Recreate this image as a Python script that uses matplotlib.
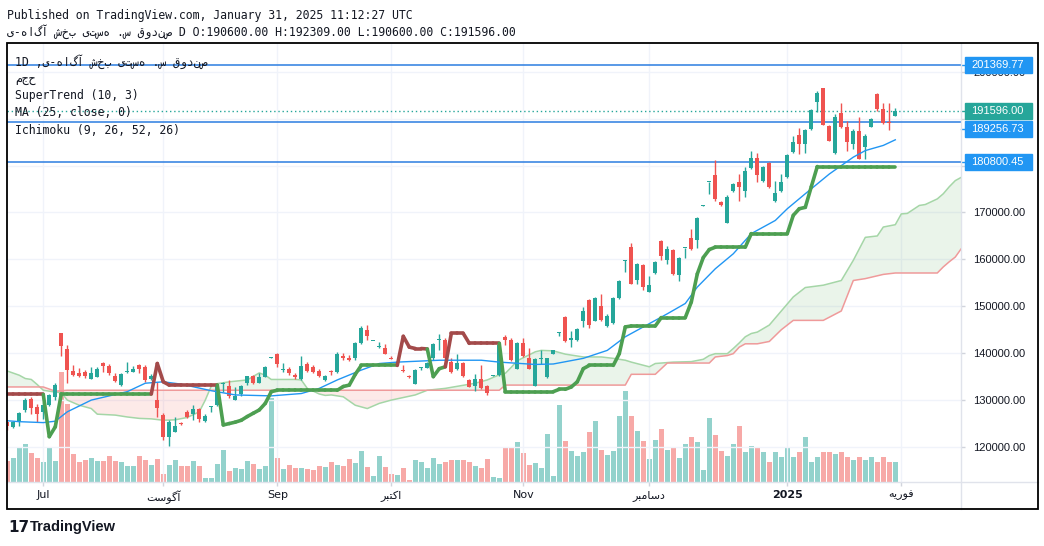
import matplotlib
matplotlib.use("Agg")
import matplotlib.pyplot as plt
from matplotlib.collections import LineCollection
from matplotlib.patches import Rectangle
from matplotlib.lines import Line2D
import numpy as np

# daily candles (trading-day index 0..148, late Jun 2024 -> 29 Jan 2025)
opens = [125300, 124300, 125300, 127900, 130200, 128600, 127500, 128900, 130600, 144200,
         141000, 136200, 135700, 136000, 134600, 135000, 137900, 137200, 135200, 133200,
         136000, 136000, 137400, 137100, 134400, 130000, 126800, 122200, 123300, 125100,
         127400, 127000, 128100, 125600, 128600, 129000, 133500, 133000, 130000, 131300,
         133700, 135100, 133700, 135000, 139000, 139800, 136500, 136700, 135300, 134500,
         137600, 137100, 136200, 134300, 136100, 136000, 139400, 138900, 138900, 142100,
         145000, 142500, 141300, 141200, 139000, 137900, 136300, 135000, 133500, 136800,
         136900, 138900, 142800, 142900, 138100, 136700, 137900, 134300, 133000, 134600,
         133000, 135200, 135400, 143500, 142900, 136700, 142100, 138900, 133000, 138800,
         135000, 139900, 144400, 147700, 142800, 142800, 146900, 151400, 146900, 150000,
         145900, 146400, 151800, 159700, 162700, 155700, 158700, 153000, 157100, 164000,
         159800, 161900, 156600, 162400, 164600, 164200, 171400, 176500, 178100, 172300,
         167700, 174500, 176600, 174500, 179400, 181600, 176700, 180600, 172400, 174500,
         177500, 183000, 186500, 184600, 187900, 193500, 196500, 188500, 182600, 191200,
         188200, 184700, 187400, 183900, 188300, 195300, 192100, 189400, 190600]
highs = [125400, 125600, 127500, 130400, 130600, 129100, 129600, 131300, 133600, 144300,
         141700, 137400, 136800, 136400, 137000, 137100, 138100, 137600, 135700, 135700,
         138100, 137300, 137800, 137400, 135500, 133800, 127200, 125700, 126500, 125400,
         127900, 128900, 128400, 127000, 128700, 133200, 133800, 134300, 132800, 133200,
         135100, 135300, 135700, 137200, 139100, 140000, 137900, 137100, 135700, 139400,
         138100, 137400, 136600, 135300, 136500, 140200, 140100, 139600, 142300, 145700,
         146000, 142700, 142400, 141900, 139400, 138200, 137400, 135300, 136600, 137100,
         138200, 142100, 144000, 143200, 139000, 139900, 138100, 134600, 135500, 137400,
         133200, 135400, 142200, 143800, 143200, 142300, 143200, 141100, 138900, 140600,
         138900, 140700, 144500, 147900, 144700, 145400, 149900, 151500, 151900, 152700,
         148300, 152000, 155500, 159800, 163600, 159200, 159100, 156400, 159700, 164100,
         162800, 162200, 160500, 162500, 166400, 169000, 171500, 176600, 181100, 172500,
         173800, 176300, 178300, 179800, 183200, 182600, 180000, 180800, 176800, 178200,
         182500, 186300, 188100, 187800, 192100, 196000, 196600, 188600, 191000, 193300,
         189600, 187900, 190300, 186800, 190100, 195400, 193300, 193300, 192309]
lows = [123600, 124100, 124500, 127500, 127000, 125400, 126000, 128700, 130000, 139400,
        133600, 135100, 134900, 134700, 134400, 134900, 135900, 135300, 133800, 133000,
        135800, 135900, 135700, 133900, 134200, 126400, 121500, 120300, 123200, 124600,
        126100, 125700, 125400, 125400, 127500, 128800, 131800, 130400, 130000, 130900,
        133200, 133400, 133600, 134900, 139000, 137000, 136000, 135300, 134600, 134300,
        136000, 135800, 135000, 134100, 135300, 135800, 138500, 138400, 138500, 141900,
        142800, 142500, 141200, 139900, 138800, 137700, 136000, 134800, 133400, 136400,
        136800, 138500, 140600, 138700, 135800, 136500, 135000, 132700, 132000, 132300,
        131100, 135200, 135200, 141700, 138300, 136600, 139100, 136600, 133000, 137800,
        134800, 139800, 143700, 142300, 141300, 142600, 145600, 145300, 146800, 146800,
        145600, 146200, 151600, 157400, 154700, 154700, 153400, 153000, 156900, 159800,
        159100, 156700, 155400, 160200, 162100, 162500, 171300, 174000, 172500, 171300,
        167700, 174300, 172500, 173300, 179300, 176600, 176500, 175200, 172300, 174400,
        177300, 182600, 182500, 182600, 187600, 191400, 188600, 185200, 182500, 188100,
        183200, 183500, 181400, 181400, 188200, 191700, 188900, 187500, 190600]
closes = [124500, 125400, 127200, 130000, 128300, 127000, 128900, 131100, 133200, 141600,
          136400, 135300, 135200, 135100, 135800, 136700, 137300, 135700, 134000, 135500,
          136100, 136700, 136600, 134300, 135100, 128400, 122100, 125400, 124500, 124900,
          126400, 128200, 126000, 126700, 128700, 133000, 133700, 130850, 130850, 133000,
          135100, 133600, 135000, 137100, 139100, 137600, 136600, 135700, 135000, 137200,
          136200, 136000, 135200, 135100, 135900, 139900, 139000, 138600, 142200, 145300,
          143600, 142600, 141400, 139900, 138800, 138000, 136200, 134900, 136400, 136900,
          137900, 141900, 142900, 138900, 136000, 137900, 135200, 132800, 134600, 132500,
          131600, 135300, 141800, 142900, 138500, 142100, 139400, 136700, 138700, 138900,
          138900, 140600, 144500, 142600, 143300, 145100, 149100, 146000, 151800, 147000,
          147900, 151800, 155300, 159800, 154800, 159100, 154100, 154500, 159500, 160700,
          162300, 156900, 160300, 162500, 162300, 168900, 171500, 176600, 172900, 171500,
          173400, 176100, 175400, 178900, 181600, 177900, 179800, 175400, 174200, 176600,
          182300, 185100, 184600, 187600, 191800, 195500, 188700, 185300, 190400, 188300,
          185100, 187400, 181500, 186400, 189900, 192100, 189000, 189000, 191596]
volumes = [21, 24, 35, 38, 29, 24, 20, 34, 21, 110, 78, 28, 20, 22, 24, 21, 21, 26, 21, 20,
           16, 16, 26, 22, 17, 23, 8, 17, 22, 16, 16, 21, 16, 4, 4, 18, 32, 11, 14, 13,
           21, 18, 13, 16, 84, 24, 13, 17, 14, 14, 13, 12, 16, 15, 20, 17, 16, 23, 19, 31,
           15, 6, 26, 15, 8, 7, 14, 2, 22, 20, 14, 24, 18, 20, 22, 22, 22, 20, 16, 14,
           23, 5, 4, 35, 35, 40, 29, 17, 19, 14, 48, 6, 77, 41, 31, 26, 30, 50, 61, 32,
           27, 31, 66, 91, 66, 51, 41, 23, 42, 53, 32, 35, 24, 38, 45, 40, 12, 64, 47, 31,
           26, 38, 56, 30, 36, 35, 30, 20, 30, 25, 35, 25, 30, 45, 20, 25, 30, 30, 28, 30,
           25, 22, 25, 22, 25, 20, 25, 20, 20]

# MA (25, close)
ma_idx = [0, 2, 6, 8, 10, 14, 20, 23, 26, 29, 34, 38, 44, 49, 52, 55, 59, 62, 65, 72, 79,
          82, 88, 91, 96, 100, 103, 106, 110, 113, 115, 118, 121, 124, 128, 130, 133, 137,
          141, 143, 146, 148]
ma_val = [125600, 125400, 125200, 125500, 127500, 130000, 131800, 133600, 133900, 133400,
          132000, 131100, 130900, 131400, 132500, 134300, 136400, 137800, 138100, 138500,
          138500, 138100, 137600, 137700, 138900, 140600, 143500, 145600, 148400, 150600,
          154100, 158000, 161200, 165500, 168300, 170800, 174000, 178200, 181800, 183200,
          184300, 185500]

# SuperTrend (10, 3), one value per bar, 1 = up trend
st_val = ([131200] * 7 + [122200, 124300] + [131300] * 16 + [137800, 133900] + [133200] * 9
          + [124700, 125000, 125300, 125700, 126500, 127200, 127900, 129300, 131800]
          + [132100] * 11 + [132900, 133200, 135500] + [137400] * 7
          + [143600, 141300, 141000, 141000, 140900, 135000, 136700, 137100, 144200, 144200, 144200]
          + [142100] * 6 + [131800] * 9 + [132300, 132300, 132800, 133900, 136700] + [137400] * 5
          + [139900, 145600] + [145800] * 5 + [147600] * 5 + [150900, 156900, 160400, 162100]
          + [162600] * 6 + [165500] * 7 + [169400, 170800, 171100, 175500] + [179800] * 14)
st_up = [0] * 7 + [1] * 18 + [0] * 11 + [1] * 30 + [0] * 5 + [1] * 3 + [0] * 9 + [1] * 66

# Ichimoku cloud (leading spans, already shifted 26 bars)
cloud_idx = [0, 2, 3, 4, 5, 6, 8, 9, 10, 12, 14, 15, 18, 20, 22, 24, 26, 28, 30, 32,
             33, 34, 35, 37, 40, 42, 43, 44, 48, 49, 50, 52, 53, 54, 56, 58, 60, 62, 64, 68,
             70, 73, 78, 80, 82, 83, 84, 85, 88, 89, 91, 93, 96, 99, 101, 103, 104, 107, 108, 109,
             110, 111, 114, 116, 117, 118, 120, 121, 122, 123, 124, 125, 127, 129, 131, 133, 136, 139, 141, 143,
             145, 146, 148, 149, 150, 152, 153, 155, 156, 157, 158, 159, 160]
span_a = [136200, 135300, 134600, 134400, 133300, 132100, 131700, 131600, 130000, 128900,
          128200, 127000, 126800, 126400, 126100, 126000, 125700, 125800, 126300, 127500,
          130000, 133000, 133500, 133900, 134300, 135800, 135300, 134400, 134400, 134300,
          132500, 131300, 131000, 131100, 130700, 128900, 128200, 129300, 130000, 131100,
          132100, 132500, 133600, 134300, 135400, 135700, 137000, 138400, 140300, 140600,
          140500, 139800, 139200, 139200, 138900, 138500, 138100, 137100, 137800, 137900,
          138000, 138100, 138200, 138700, 139500, 139900, 139900, 141000, 142200, 143500,
          144200, 144500, 146000, 149000, 152000, 154000, 154500, 155500, 159800, 164700,
          165000, 166900, 167400, 169700, 169800, 171500, 171700, 172900, 174000, 175500,
          176800, 177500, 178000]
span_b = ([132800] * 6 + [131900, 132000] + [132100] * 37 + [133200] * 11 + [135500] * 3
          + [136700] + [137900] * 5 + [139200, 139500, 139900, 141300] + [142000] * 3
          + [142500, 145000] + [147000] * 3 + [149000, 155500, 155900, 156500, 156800]
          + [157100] * 6 + [158400, 159500, 160500, 162300, 163000])

month_idx = [6, 26, 45, 64, 86, 107, 130, 149]
month_lbl = ["Jul", "\ufe96\ufeb3\ufeee\ufb94\ufe81", "Sep", "\ufeae\ufe92\ufe98\ufb90\ufe8d",
             "Nov", "\ufeae\ufe92\ufee3\ufe8e\ufeb3\ufea9", "2025", "\ufeea\ufbfe\ufead\ufeee\ufed3"]

price_ticks = [120000, 130000, 140000, 150000, 160000, 170000, 180000, 190000, 200000]
hidden_ticks = [180000, 190000]  # covered by the price labels
line_levels = [201369.77, 189256.73, 180800.45]
last_close = 191596.00

name_fa = "صندوق س. هستی بخش آگاه-ی"[::-1]

W, H = 1044, 546
L, R, T, B = 6.5, 961, 43, 482


def fx(px):
    return px / W


def fy(py):
    return 1 - py / H


fig = plt.figure(figsize=(W / 100, H / 100), dpi=100)
rect = [fx(L), fy(B), fx(R) - fx(L), fy(T) - fy(B)]
ax_v = fig.add_axes(rect)
ax = fig.add_axes(rect, sharex=ax_v)
ax.patch.set_visible(False)

x = np.arange(len(closes))
o, h, l, c = (np.array(a, dtype=float) for a in (opens, highs, lows, closes))
up = c >= o
UP, DN = "#26a69a", "#ef5350"

# volume pane
ax_v.bar(x, volumes, width=0.84, color=np.where(up, "#93d2cc", "#f7a9a7"), linewidth=0)
ax_v.set_ylim(0, B - T)
ax_v.axis("off")

# ichimoku cloud
ci = np.array(cloud_idx, dtype=float)
sa = np.array(span_a, dtype=float)
sb = np.array(span_b, dtype=float)
ax.fill_between(ci, sa, sb, where=sa >= sb, interpolate=True, color="#43a047", alpha=0.11, lw=0, zorder=1)
ax.fill_between(ci, sa, sb, where=sa < sb, interpolate=True, color="#f44336", alpha=0.11, lw=0, zorder=1)
ax.plot(ci, sa, color="#a5d6a7", lw=1.1, zorder=2)
ax.plot(ci, sb, color="#ef9a9a", lw=1.1, zorder=2)

# drawn horizontal lines and last price
for v in line_levels:
    ax.axhline(v, color="#2b7de0", lw=1.1, zorder=2.5)
ax.axhline(last_close, color=UP, lw=1, ls=(0, (1, 2)), zorder=2.5)

# candles
col = np.where(up, UP, DN)
ax.vlines(x, l, h, colors=col, lw=1, zorder=3)
ax.bar(x, np.maximum(np.abs(c - o), 220), bottom=np.minimum(o, c), width=0.66,
       color=col, linewidth=0, zorder=3.5)

# MA
ax.plot(ma_idx, ma_val, color="#2196f3", lw=1.0, zorder=4)

# SuperTrend
pts = np.column_stack([x, st_val])
segs = [pts[i - 1:i + 1] for i in range(1, len(pts))]
seg_col = ["#4d9f51" if st_up[i] else "#a34a4a" for i in range(1, len(pts))]
ax.add_collection(LineCollection(segs, colors=seg_col, linewidths=2.6, capstyle="round",
                                 joinstyle="round", zorder=5))

ax.set_xlim(-0.13, 158.95)
ax.set_ylim(112537, 206138)

# axes styling
for s in ax.spines.values():
    s.set_visible(False)
ax.yaxis.tick_right()
ax.set_yticks(price_ticks)
ax.set_yticklabels(["" if v in hidden_ticks else f"{v:.2f}" for v in price_ticks], fontsize=8,
                   family="Liberation Sans", color="#131722")
ax.set_xticks(month_idx)
ax.set_xticklabels(month_lbl, fontsize=8, family="DejaVu Sans", color="#131722")
for t in ax.get_xticklabels():
    if t.get_text() == "2025":
        t.set_fontweight("bold")
ax.tick_params(axis="y", length=3, width=1, color="#d1d4dc", pad=6)
ax.tick_params(axis="x", length=3, width=1, color="#d1d4dc", pad=3)
ax.grid(True, color="#f0f3fa", lw=1)
ax.set_axisbelow(True)

# frame and separators
fig.add_artist(Rectangle((fx(L), fy(509)), fx(1037.5) - fx(L), fy(T) - fy(509),
                         transform=fig.transFigure, fill=False, ec="black", lw=1.3, zorder=10))
fig.add_artist(Line2D([fx(R), fx(R)], [fy(T), fy(509)], color="#e0e3eb", lw=1, zorder=9))
fig.add_artist(Line2D([fx(L), fx(1037.5)], [fy(B), fy(B)], color="#e0e3eb", lw=1, zorder=9))

# price labels on the scale
labels = [(201369.77, "#2196f3", 0), (last_close, UP, 0), (189256.73, "#2196f3", -7),
          (180800.45, "#2196f3", 0)]
for v, colr, off in labels:
    yp = ax.transData.transform((0, v))[1] + off
    yf = yp / H
    fig.add_artist(Rectangle((fx(965), yf - 8 / H), fx(1032) - fx(965), 16 / H,
                             transform=fig.transFigure, color=colr, zorder=6))
    fig.add_artist(Line2D([fx(R), fx(965)], [yf, yf], color=colr, lw=1, zorder=6))
    fig.text(fx(971), yf, f"{v:.2f}", color="white", fontsize=8, family="Liberation Sans",
             va="center", ha="left", zorder=7)

# header and legend
mono = ["DejaVu Sans Mono", "DejaVu Sans"]
fig.text(fx(7), fy(15), "Published on TradingView.com, January 31, 2025 11:12:27 UTC",
         fontsize=8.3, family=mono, color="#131722", va="center")
fig.text(fx(7), fy(32), name_fa + " D O:190600.00 H:192309.00 L:190600.00 C:191596.00",
         fontsize=8.3, family=mono, color="#131722", va="center")
legend = ["1D ," + name_fa, "مجح", "SuperTrend (10, 3)", "MA (25, close, 0)",
          "Ichimoku (9, 26, 52, 26)"]
for i, t in enumerate(legend):
    fig.text(fx(15), fy(62 + 17 * i), t, fontsize=8.3, family=mono, color="#131722", va="center")

# footer logo
fig.text(fx(8), fy(527), "17", fontsize=11, fontweight="heavy", family="DejaVu Sans",
         color="#131722", va="center")
fig.text(fx(30), fy(527), "TradingView", fontsize=10.5, fontweight="bold",
         family="Liberation Sans", color="#131722", va="center")

fig.savefig("out.png", dpi=100, facecolor="white")
